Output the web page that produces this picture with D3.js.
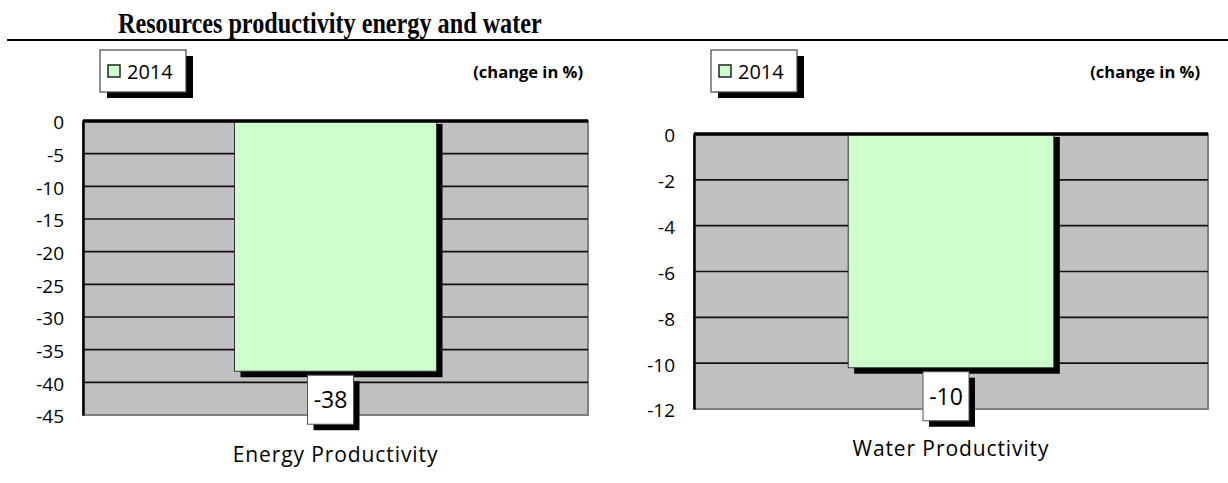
<!DOCTYPE html>
<html>
<head>
<meta charset="utf-8">
<script src="https://cdnjs.cloudflare.com/ajax/libs/d3/7.8.5/d3.min.js"></script>
<style>
  body { margin: 0; background: #fff; }
  svg { display: block; }
  .tick text { font-family: "Open Sans", sans-serif; }
</style>
</head>
<body>
<div id="chart"></div>
<script>
// data
const title = "Resources productivity energy and water";
const categories = ["Energy Productivity", "Water Productivity"];
const seriesName = "2014";
const values2014 = [-38.3, -10.2];
const valueLabels = ["-38", "-10"];
const energyTicks = [0, -5, -10, -15, -20, -25, -30, -35, -40, -45];
const waterTicks = [0, -2, -4, -6, -8, -10, -12];
const unitLabel = "(change in %)";

const W = 1228, H = 483;
const barFill = "#ccffcc", plotFill = "#c0c0c0";
const shadow = 6;

const svg = d3.select("#chart").append("svg")
  .attr("width", W)
  .attr("height", H);

// title and rule
svg.append("text")
  .attr("transform", "translate(118,33) scale(1,1.2)")
  .attr("font-family", "Liberation Serif, serif")
  .attr("font-weight", "bold")
  .attr("font-size", 24.2)
  .text(title);

svg.append("line")
  .attr("x1", 7).attr("x2", W)
  .attr("y1", 40).attr("y2", 40)
  .attr("stroke", "#000")
  .attr("stroke-width", 2);

// one panel per indicator
const panels = [
  {plot: {x: 83, y: 121, w: 505, h: 294}, ticks: energyTicks, unitX: 583},
  {plot: {x: 694, y: 134, w: 514, h: 275}, ticks: waterTicks, unitX: 1200}
];

panels.forEach(function(p, i){
  const g = svg.append("g");
  const pl = p.plot;

  const y = d3.scaleLinear()
    .domain([0, d3.min(p.ticks)])
    .range([pl.y, pl.y + pl.h]);

  const x = d3.scaleBand()
    .domain([categories[i]])
    .range([pl.x, pl.x + pl.w])
    .paddingInner(0)
    .paddingOuter(0.75);

  // plot area
  g.append("rect")
    .attr("x", pl.x).attr("y", pl.y)
    .attr("width", pl.w).attr("height", pl.h)
    .attr("fill", plotFill)
    .attr("stroke", "#808080")
    .attr("stroke-width", 2);

  // gridlines
  g.selectAll(".grid")
    .data(p.ticks.filter(function(t){ return t !== 0 && t !== d3.min(p.ticks); }))
    .join("line")
      .attr("class", "grid")
      .attr("x1", pl.x).attr("x2", pl.x + pl.w)
      .attr("y1", function(d){ return y(d); })
      .attr("y2", function(d){ return y(d); })
      .attr("stroke", "#111")
      .attr("stroke-width", 1.6);

  // y axis
  const yAxis = d3.axisLeft(y)
    .tickValues(p.ticks)
    .tickSize(0)
    .tickPadding(19)
    .tickFormat(function(d){ return String(d); });

  const ax = g.append("g")
    .attr("transform", "translate(" + pl.x + ",0)")
    .call(yAxis);
  ax.select(".domain")
    .attr("stroke", "#000")
    .attr("stroke-width", 2.5);
  ax.selectAll(".tick text")
    .attr("font-size", 19)
    .attr("fill", "#000")
    .attr("dy", "0.42em");

  // bar with shadow
  const bx = x(categories[i]), bw = x.bandwidth();
  const by = y(0), bh = y(values2014[i]) - y(0);

  g.append("rect")
    .attr("x", bx + shadow).attr("y", by + 3)
    .attr("width", bw).attr("height", bh + shadow - 3)
    .attr("fill", "#000");

  g.append("rect")
    .attr("x", bx).attr("y", by)
    .attr("width", bw).attr("height", bh)
    .attr("fill", barFill)
    .attr("stroke", "#333")
    .attr("stroke-width", 1);

  // zero line (category axis)
  g.append("line")
    .attr("x1", pl.x).attr("x2", pl.x + pl.w)
    .attr("y1", y(0)).attr("y2", y(0))
    .attr("stroke", "#000")
    .attr("stroke-width", 3.5);

  // value label box
  const lw = 46, lh = 49;
  const lx = bx + bw / 2 - lw / 2 - 5, ly = by + bh + 4;
  g.append("rect")
    .attr("x", lx + shadow).attr("y", ly + shadow)
    .attr("width", lw).attr("height", lh)
    .attr("fill", "#000");
  g.append("rect")
    .attr("x", lx).attr("y", ly)
    .attr("width", lw).attr("height", lh)
    .attr("fill", "#fff")
    .attr("stroke", "#555")
    .attr("stroke-width", 1);
  g.append("text")
    .attr("x", lx + lw / 2)
    .attr("y", ly + 33)
    .attr("text-anchor", "middle")
    .attr("font-family", "Open Sans, sans-serif")
    .attr("font-size", 23)
    .text(valueLabels[i]);

  // category label
  g.append("text")
    .attr("x", bx + bw / 2)
    .attr("y", pl.y + pl.h + 47)
    .attr("text-anchor", "middle")
    .attr("font-family", "Open Sans, sans-serif")
    .attr("font-size", 21)
    .attr("letter-spacing", 0.9)
    .text(categories[i]);

  // legend
  const lgx = pl.x + 17, lgy = 50;
  g.append("rect")
    .attr("x", lgx + 7).attr("y", lgy + 6)
    .attr("width", 86).attr("height", 42)
    .attr("fill", "#000");
  g.append("rect")
    .attr("x", lgx).attr("y", lgy)
    .attr("width", 86).attr("height", 42)
    .attr("fill", "#fff")
    .attr("stroke", "#444")
    .attr("stroke-width", 1.2);
  g.append("rect")
    .attr("x", lgx + 8).attr("y", lgy + 15)
    .attr("width", 12).attr("height", 12)
    .attr("fill", barFill)
    .attr("stroke", "#222")
    .attr("stroke-width", 1.5);
  g.append("text")
    .attr("x", lgx + 27)
    .attr("y", lgy + 29)
    .attr("font-family", "Open Sans, sans-serif")
    .attr("font-size", 20)
    .text(seriesName);

  // unit note
  g.append("text")
    .attr("x", p.unitX)
    .attr("y", 78)
    .attr("text-anchor", "end")
    .attr("font-family", "Open Sans, sans-serif")
    .attr("font-weight", "bold")
    .attr("font-size", 16.5)
    .text(unitLabel);
});
</script>
</body>
</html>
